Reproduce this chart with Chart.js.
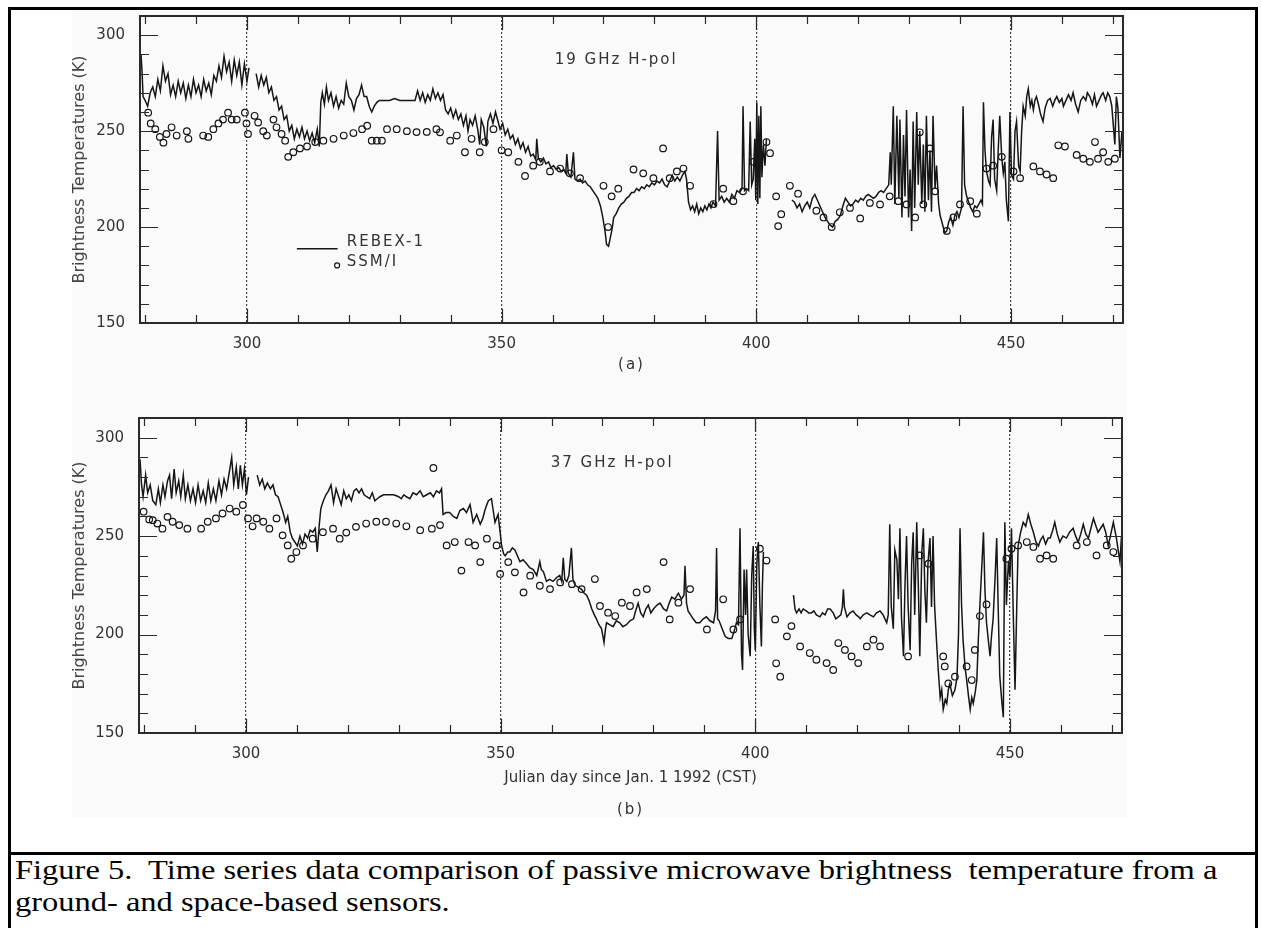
<!DOCTYPE html>
<html>
<head>
<meta charset="utf-8">
<script src="https://cdn.jsdelivr.net/npm/chart.js@4.4.1/dist/chart.umd.min.js"></script>
<style>
  html, body { margin: 0; padding: 0; background: #fff; }
  body { width: 1261px; height: 928px; position: relative; overflow: hidden; }
  #frame { position: absolute; left: 8px; top: 7px; width: 1244px; height: 940px; border: 3px solid #000; }
  #divider { position: absolute; left: 8px; top: 852px; width: 1250px; height: 3px; background: #000; }
  #scan { position: absolute; left: 72px; top: 10px; width: 1055px; height: 807px; background: #fafafa; }
  canvas { position: absolute; }
  #caption { position: absolute; left: 15px; top: 854px; font-family: "Liberation Serif", "Times New Roman", serif;
             font-size: 28px; line-height: 32px; color: #000; white-space: pre;
             transform: scaleX(1.16); transform-origin: left top; }
</style>
</head>
<body>
<div id="frame"></div>
<div id="scan"></div>
<div id="divider"></div>
<canvas id="panel-a" width="1120" height="390" style="left:30px;top:0px"></canvas>
<canvas id="panel-b" width="1120" height="430" style="left:30px;top:400px"></canvas>
<div id="caption">Figure 5.  Time series data comparison of passive microwave brightness  temperature from a
ground- and space-based sensors.</div>
<script>
// axis ticks (Julian day / Kelvin)
const xTicks = [280, 290, 300, 310, 320, 330, 340, 350, 360, 370, 380, 390, 400, 410, 420, 430, 440, 450, 460, 470];
const xLabelled = [300, 350, 400, 450];
const yTicks = [150, 160, 170, 180, 190, 200, 210, 220, 230, 240, 250, 260, 270, 280, 290, 300, 310];
const yLabelled = [150, 200, 250, 300];

// (a) 19 GHz H-pol : REBEX-1 [day, Tb], null = data gap
const rebexA = [
  [279.2,290],[279.4,281],[279.6,268],[280.0,266],[280.5,263],[281.0,270],[281.5,273],[282.0,268],[282.5,277],[283.0,271],
  [283.5,284],[284.0,276],[284.5,280],[285.0,269],[285.5,274],[286.0,268],[286.5,276],[287.0,270],[287.5,275],[288.0,267],
  [288.5,274],[289.0,268],[289.5,277],[290.0,270],[290.5,274],[291.0,268],[291.5,277],[292.0,271],[292.5,275],[293.0,269],
  [293.5,279],[294.0,276],[294.5,284],[295.0,278],[295.5,289],[296.0,281],[296.5,286],[297.0,276],[297.5,287],[298.0,279],
  [298.5,286],[299.0,274],[299.5,285],[300.0,276],[300.4,283],[300.8,null],
  [301.8,280],[302.3,273],[302.8,279],[303.3,274],[303.8,278],[304.3,270],[304.8,273],[305.3,266],[305.8,268],[306.3,261],
  [306.8,263],[307.3,256],[307.8,258],[308.3,250],[308.8,253],[309.3,246],[309.8,251],[310.3,247],[310.8,252],[311.3,246],
  [311.8,250],[312.3,245],[312.8,249],[313.3,244],[313.8,251],[314.2,242],[314.5,265],[314.8,270],[315.2,264],[315.6,273],
  [316.0,266],[316.5,270],[317.0,263],[317.5,268],[318.0,262],[318.5,266],[319.0,264],[319.5,275],[320.0,268],[320.5,266],
  [321.0,261],[321.5,267],[322.0,269],[322.5,274],[323.0,268],[323.5,268],[324.0,263],[324.5,260],[325.0,263],[325.5,265],
  [326.0,266],[327.0,266],[328.0,266],[329.0,267],[330.0,266],[331.0,266],[332.0,266],[333.0,266],[333.5,271],[334.0,266],
  [334.5,270],[335.0,265],[335.5,269],[336.0,266],[336.5,272],[337.0,267],[337.5,270],[338.0,266],[338.5,269],[339.0,261],
  [339.5,259],[340.0,262],[340.5,257],[341.0,261],[341.5,256],[342.0,259],[342.5,253],[343.0,258],[343.4,250],[343.8,256],
  [344.3,253],[344.8,258],[345.3,251],[345.7,243],[346.0,256],[346.5,252],[347.0,242],[347.3,255],[347.8,259],[348.3,254],
  [348.8,260],[349.3,255],[349.7,251],[350.2,254],[350.7,248],[351.2,251],[351.7,246],[352.2,248],[352.7,243],[353.2,246],
  [353.7,241],[354.2,244],[354.7,239],[355.2,242],[355.7,237],[356.2,238],[356.7,235],[356.9,246],[357.2,236],[357.7,234],
  [358.2,236],[358.7,233],[359.2,234],[359.7,231],[360.2,232],[360.7,230],[361.2,231],[361.7,229],[362.2,230],[362.6,228],
  [362.8,238],[363.1,228],[363.6,226],[364.1,239],[364.4,225],[364.9,224],[365.4,225],[365.9,223],[366.4,224],[366.9,222],
  [367.4,221],[367.9,219],[368.4,217],[368.9,215],[369.4,211],[369.8,206],[370.3,198],[370.6,191],[371.0,190],[371.3,194],
  [371.7,199],[372.0,205],[372.5,207],[373.0,210],[373.5,212],[374.0,213],[374.5,215],[375.0,216],[375.5,218],[376.0,218],
  [376.5,220],[377.0,219],[377.5,221],[378.0,220],[378.5,222],[379.0,221],[379.5,223],[380.0,222],[380.5,224],[381.0,223],
  [381.5,225],[382.0,222],[382.5,221],[383.0,224],[383.5,227],[384.0,224],[384.5,226],[385.0,224],[385.5,227],[386.0,229],
  [386.3,225],[386.7,213],[387.1,209],[387.5,211],[387.9,208],[388.3,212],[388.7,207],[389.1,210],[389.5,208],[389.9,211],
  [390.3,209],[390.7,212],[391.1,210],[391.5,213],[392.0,211],[392.4,250],[392.7,214],[393.2,216],[393.7,213],[394.2,215],
  [394.7,213],[395.2,217],[395.7,215],[396.2,219],[396.7,218],[397.2,220],[397.4,263],[397.7,219],[398.1,220],[398.5,219],
  [398.8,255],[399.1,222],[399.4,225],[399.7,246],[399.9,214],[400.1,265],[400.3,212],[400.5,258],[400.7,215],[400.9,263],
  [401.1,226],[401.4,243],[401.7,232],[402.0,246],[402.3,null],
  [407.0,214],[407.5,213],[408.0,210],[408.5,212],[409.0,208],[409.5,211],[410.0,213],[410.5,210],[411.0,215],[411.5,217],
  [412.0,214],[412.5,211],[413.0,208],[413.5,205],[414.0,203],[414.5,201],[415.0,200],[415.5,203],[416.0,204],[416.5,206],
  [417.0,211],[417.5,215],[418.0,213],[418.5,211],[419.0,212],[419.5,214],[420.0,213],[420.5,215],[421.0,214],[421.5,216],
  [422.0,217],[422.5,216],[423.0,215],[423.5,216],[424.0,218],[424.5,219],[425.0,218],[425.5,220],[426.0,222],[426.3,239],
  [426.5,222],[426.9,263],[427.2,212],[427.6,258],[428.0,215],[428.2,256],[428.6,205],[428.9,248],[429.2,216],[429.5,261],
  [429.9,205],[430.2,230],[430.5,198],[430.8,255],[431.1,210],[431.5,260],[431.8,222],[432.1,250],[432.5,212],[432.8,243],
  [433.1,208],[433.4,258],[433.8,214],[434.1,240],[434.4,208],[434.7,258],[435.1,220],[435.4,232],[435.8,212],[436.1,206],
  [436.4,203],[436.7,200],[437.0,197],[437.4,198],[437.8,203],[438.2,205],[438.6,201],[439.0,206],[439.4,208],[439.8,205],
  [440.3,210],[440.6,263],[440.9,222],[441.3,216],[441.7,213],[442.1,210],[442.5,208],[442.9,211],[443.3,210],[443.7,212],
  [444.1,214],[444.4,212],[444.6,265],[444.9,240],[445.2,229],[445.6,224],[445.9,222],[446.2,247],[446.5,256],[446.8,225],
  [447.2,219],[447.5,240],[447.8,258],[448.2,236],[448.5,228],[448.8,234],[449.1,214],[449.5,203],[449.8,260],[450.1,227],
  [450.5,225],[450.8,250],[451.1,255],[451.5,232],[451.8,229],[452.1,250],[452.4,263],[452.8,258],[453.1,268],[453.4,272],
  [453.8,263],[454.1,266],[454.4,261],[454.7,266],[455.0,268],[455.4,264],[455.8,259],[456.3,255],[456.7,262],[457.2,266],
  [457.7,267],[458.2,263],[458.6,266],[459.0,268],[459.5,265],[460.0,267],[460.3,263],[460.8,266],[461.3,269],[461.8,266],
  [462.2,270],[462.7,264],[463.2,260],[463.7,266],[464.2,268],[464.7,266],[465.0,270],[465.5,268],[466.0,264],[466.4,269],
  [466.8,263],[467.3,266],[467.8,269],[468.1,270],[468.6,266],[469.0,270],[469.4,268],[469.8,263],[470.1,253],[470.4,243],
  [470.7,268],[471.0,262],[471.4,236],[471.8,250]
];

// (a) 19 GHz H-pol : SSM/I overpasses [day, Tb]
const ssmiA = [
  [280.6,259.6],[281.1,254],[282.0,251],[282.9,247],[283.6,244],[284.2,248.5],[285.2,252],[286.2,247.7],[288.2,250],[288.5,246],
  [291.4,247.7],[292.4,247],[293.4,251],[294.4,254],[295.3,256],[296.3,259.6],[297.0,256],[298.0,256],[299.6,259.6],[299.9,254],
  [300.2,248.5],[301.5,258],[302.2,254.5],[303.2,250],[303.9,247.7],[305.2,256],[305.8,252],[306.8,248.5],[307.5,245],[308.1,236.6],
  [309.1,239],[310.4,241],[311.8,242],[313.4,244.3],[315.0,245],[317.0,246],[319.0,247.7],[320.9,249],[322.6,251],[323.6,252.8],
  [324.5,245],[325.5,245],[326.5,245],[327.5,251],[329.4,251],[331.4,250],[333.3,249.5],[335.3,249.6],[337.2,251],[337.9,249.4],
  [339.9,245],[341.2,247.7],[342.8,239],[344.1,246],[345.7,239],[346.7,244.3],[348.4,251],[350.0,240],[351.3,239],[353.3,234],
  [354.6,226.6],[356.2,232],[357.5,234],[359.5,229],[361.5,230.5],[363.4,228],[365.4,225.5],[370.0,221.5],[370.9,200],[371.6,216],
  [372.9,220],[375.9,230],[377.8,228],[379.8,225.5],[381.7,241],[383.0,225.5],[384.4,229],[385.7,230.5],[387.0,221.5],[391.6,212],
  [393.5,220],[395.5,213.5],[397.4,218.6],[399.4,234],[402.0,244.3],[402.7,238.5],[403.9,216],[404.3,200.5],[404.9,206.7],[406.6,221.5],
  [408.2,217.4],[411.8,208.5],[413.2,205],[414.8,200],[416.4,207.7],[418.4,210],[420.4,204.5],[422.3,212.6],[424.3,211.8],[426.2,216],
  [427.9,213.5],[429.5,211.8],[431.2,205],[432.1,249.4],[432.8,211.8],[434.1,241],[435.1,218.6],[437.4,198],[438.7,205],[440.0,211.8],
  [442.0,213.5],[443.3,207],[445.2,230.5],[446.5,232],[448.2,236.6],[450.5,229],[451.8,225.5],[454.4,231.6],[455.7,229],[457.0,227.4],
  [458.3,225.5],[459.3,242.6],[460.6,242],[462.9,237.6],[464.2,235.6],[465.5,234],[466.5,244.3],[467.1,235.6],[468.1,239],[469.1,234],
  [470.4,235.6]
];

// (b) 37 GHz H-pol : REBEX-1 [day, Tb]
const rebexB = [
  [279.2,289],[279.5,276],[279.8,270],[280.3,281],[280.7,272],[281.2,276],[281.7,268],[282.3,266],[282.8,274],[283.2,267],
  [283.7,276],[284.1,270],[284.6,278],[285.0,281],[285.4,269],[285.9,284],[286.3,272],[286.8,278],[287.2,270],[287.7,281],
  [288.1,269],[288.6,276],[289.1,268],[289.6,274],[290.1,267],[290.6,276],[291.1,268],[291.6,273],[292.1,267],[292.6,277],
  [293.1,268],[293.6,274],[294.1,268],[294.7,278],[295.2,271],[295.7,279],[296.2,274],[296.7,282],[297.2,290],[297.6,276],
  [298.1,285],[298.5,274],[298.9,286],[299.3,276],[299.7,284],[300.1,271],[300.5,280],[300.8,null],
  [302.2,281],[302.7,276],[303.2,279],[303.7,274],[304.2,277],[304.8,274],[305.3,276],[305.8,271],[306.3,270],[306.8,266],
  [307.3,262],[307.8,257],[308.2,260],[308.7,252],[309.1,249],[309.6,247],[310.1,245],[310.6,250],[311.1,246],[311.6,251],
  [312.1,249],[312.6,253],[313.1,252],[313.6,254],[314.0,242],[314.4,256],[314.7,264],[315.2,268],[315.7,271],[316.2,273],
  [316.7,276],[317.2,267],[317.7,274],[318.2,270],[318.7,266],[319.2,273],[319.7,269],[320.2,271],[320.7,268],[321.2,273],
  [321.7,274],[322.2,272],[322.7,274],[323.2,271],[323.7,270],[324.3,269],[324.8,272],[325.3,268],[325.8,269],[326.3,270],
  [327.0,271],[328.0,271],[329.0,271],[330.0,270],[330.5,269],[331.0,271],[331.5,270],[332.2,269],[332.8,272],[333.5,271],
  [334.2,273],[334.8,270],[335.5,271],[336.2,272],[336.8,270],[337.4,273],[338.0,272],[338.4,274],[338.7,261],[339.3,262],
  [340.0,262],[340.7,260],[341.4,259],[342.0,263],[342.7,264],[343.3,262],[344.0,266],[344.6,257],[345.3,261],[346.0,256],
  [346.5,259],[346.9,263],[347.3,266],[347.6,268],[348.2,269],[348.6,262],[348.9,257],[349.5,261],[349.9,252],[350.2,245],
  [350.6,241],[350.9,240],[351.4,242],[351.8,242],[352.3,244],[352.8,243],[353.3,240],[353.8,237],[354.4,238],[355.1,236],
  [355.7,234],[356.4,233],[357.1,230],[357.7,237],[358.0,233],[358.4,232],[359.0,227],[359.6,228],[360.3,227],[361.0,229],
  [361.6,230],[362.0,227],[362.3,239],[362.6,228],[363.0,227],[363.4,230],[363.9,244],[364.2,228],[364.6,225],[365.3,224],
  [365.9,223],[366.4,221],[366.9,220],[367.4,217],[367.9,213],[368.4,210],[368.8,208],[369.3,205],[369.8,203],[370.1,199],
  [370.3,196],[370.6,203],[370.8,206],[371.4,205],[372.1,204],[372.7,207],[373.4,206],[374.0,204],[374.7,205],[375.4,207],
  [376.1,208],[376.5,212],[377.0,216],[377.5,211],[378.0,209],[378.5,213],[379.0,215],[379.5,211],[380.0,213],[380.7,215],
  [381.3,216],[382.0,213],[382.6,212],[383.1,216],[383.6,219],[384.2,218],[384.9,221],[385.5,218],[386.0,220],[386.2,235],
  [386.5,216],[386.8,212],[387.3,210],[387.8,208],[388.4,206],[389.1,206],[389.8,208],[390.4,209],[391.1,207],[391.8,206],
  [392.2,212],[392.4,244],[392.6,208],[392.9,207],[393.5,203],[394.1,199],[394.7,198],[395.4,198],[396.0,203],[396.3,206],
  [396.7,205],[397.0,254],[397.3,190],[397.5,182],[397.8,233],[398.1,210],[398.3,233],[398.6,200],[399.0,189],[399.3,230],
  [399.6,245],[399.8,204],[400.0,192],[400.3,236],[400.6,247],[400.9,215],[401.2,194],[401.4,225],[401.6,242],[401.9,null],
  [407.5,220],[407.8,213],[408.1,211],[408.6,213],[409.0,211],[409.4,213],[410.0,212],[410.5,211],[411.0,211],[411.5,212],
  [412.0,210],[412.7,209],[413.2,211],[413.7,210],[414.2,213],[414.7,213],[415.3,211],[415.8,208],[416.3,209],[416.8,210],
  [417.1,214],[417.3,223],[417.5,214],[418.0,209],[418.6,211],[419.2,212],[419.8,210],[420.3,209],[420.6,208],[421.2,210],
  [421.9,211],[422.5,210],[423.2,209],[423.8,211],[424.5,212],[425.1,210],[425.8,206],[426.1,210],[426.4,256],[426.7,214],
  [427.1,203],[427.4,243],[427.8,238],[428.1,218],[428.4,254],[428.7,209],[429.1,189],[429.4,226],[429.7,250],[430.0,215],
  [430.4,192],[430.7,236],[431.0,252],[431.3,210],[431.7,257],[432.0,226],[432.3,189],[432.7,242],[433.0,254],[433.3,222],
  [433.6,206],[433.9,236],[434.3,249],[434.6,214],[434.9,250],[435.2,215],[435.6,196],[435.9,183],[436.3,168],[436.6,172],
  [436.9,162],[437.3,167],[437.6,165],[437.9,172],[438.2,175],[438.7,169],[439.2,172],[439.6,178],[439.9,200],[440.2,254],
  [440.5,215],[440.8,197],[441.2,183],[441.5,177],[441.9,168],[442.2,162],[442.5,168],[442.8,165],[443.2,171],[443.5,177],
  [443.8,198],[444.1,215],[444.5,236],[444.8,252],[445.1,222],[445.4,206],[445.8,196],[446.1,189],[446.4,200],[446.7,208],
  [447.1,230],[447.4,249],[447.7,213],[448.0,179],[448.4,166],[448.7,158],[449.0,257],[449.3,215],[449.7,237],[450.0,229],
  [450.3,254],[450.7,205],[451.0,172],[451.3,210],[451.6,245],[452.1,252],[452.6,257],[453.1,255],[453.6,261],[454.1,256],
  [454.6,252],[455.1,247],[455.6,245],[456.0,248],[456.5,250],[457.0,246],[457.5,249],[457.9,249],[458.4,253],[458.8,257],
  [459.3,251],[459.8,247],[460.4,250],[461.1,249],[461.7,252],[462.4,254],[462.9,250],[463.4,247],[463.9,251],[464.4,256],
  [464.9,251],[465.4,249],[465.9,254],[466.4,259],[466.9,255],[467.3,252],[467.8,254],[468.3,256],[468.8,252],[469.3,245],
  [469.8,251],[470.3,257],[470.6,253],[470.9,249],[471.3,242],[471.6,237],[471.9,250]
];

// (b) 37 GHz H-pol : SSM/I overpasses [day, Tb]
const ssmiB = [
  [279.9,262.4],[281.0,258.5],[281.7,258.1],[282.6,256.4],[283.6,253.8],[284.6,259.8],[285.6,257.3],[286.9,255.6],[288.5,253.8],[291.2,253.8],
  [292.5,257.3],[294.1,259],[295.4,261.5],[296.8,264],[298.1,262.4],[299.4,265.8],[300.4,259],[301.3,255],[302.1,259],[303.4,257.3],
  [304.6,253.8],[306.0,259],[307.2,250.4],[308.2,245.3],[308.9,238.5],[309.9,241.9],[311.2,245.3],[313.1,248.7],[315.1,252],[317.1,253.8],
  [318.4,248.7],[319.7,251.8],[321.6,254.7],[323.6,256.4],[325.6,257.3],[327.5,257.3],[329.5,256.4],[331.5,255],[334.2,253],[336.5,253.8],
  [336.8,284.6],[338.1,255.6],[339.4,245.3],[341.0,247],[342.3,232.5],[343.7,247],[345.0,245.3],[346.0,236.8],[347.3,248.7],[349.2,245.3],
  [349.9,230.8],[351.5,236.8],[352.8,231.6],[354.5,221.4],[355.8,229.9],[357.7,224.8],[359.7,223.1],[361.7,226.5],[364.0,225.6],[365.9,223.1],
  [368.5,228.2],[369.5,214.5],[371.1,211.1],[372.5,209.4],[373.8,216.2],[375.4,214.5],[376.7,221.4],[378.7,223.1],[382.0,236.8],[383.2,207.7],
  [384.9,216.2],[387.2,223.1],[390.5,202.6],[393.7,217.9],[395.7,202.6],[397.0,207.7],[400.9,243.6],[402.2,237.6],[403.9,207.7],[404.1,185.4],
  [404.9,178.6],[406.2,199.1],[407.1,204.3],[408.8,194],[410.7,190.6],[412.0,187.2],[414.0,185.5],[415.3,182],[416.3,195.7],[417.6,192.2],
  [418.9,188.9],[420.2,185.5],[421.9,194],[423.2,197.4],[424.5,194],[430.0,188.9],[432.3,240.2],[434.0,236],[436.9,188.9],[437.2,183.8],
  [437.9,175.2],[439.2,178.6],[441.5,183.8],[442.5,176.9],[443.1,192.2],[444.1,209.4],[445.4,215.3],[449.3,238.5],[450.3,243.6],[451.6,245.3],
  [453.3,247],[454.6,244.5],[455.9,238.5],[457.2,240.2],[458.5,238.5],[463.1,245.3],[465.1,247],[467.0,240.2],[469.0,245.3],[470.3,241.9]
];

const INK = '#161616';
const FONT = '"DejaVu Sans", sans-serif';
Chart.defaults.font.family = FONT;
Chart.defaults.color = '#333';

const toPoints = (rows) => rows.map(([day, tb]) => ({ x: day, y: tb }));

// IDL-style frame: inward ticks on all four sides, panel texts and the in-plot legend
const idlFrame = {
  id: 'idlFrame',
  afterDatasetsDraw(chart, args, opts) {
    const { ctx, chartArea: a, scales: { x, y } } = chart;
    ctx.save();
    ctx.strokeStyle = '#2a2a2a';
    ctx.lineWidth = 1.2;
    ctx.beginPath();
    yTicks.forEach((v) => {
      const py = Math.round(y.getPixelForValue(v)) + 0.5;
      const len = yLabelled.includes(v) ? 18 : 9;
      ctx.moveTo(a.left, py); ctx.lineTo(a.left + len, py);
      ctx.moveTo(a.right, py); ctx.lineTo(a.right - len, py);
    });
    xTicks.forEach((v) => {
      const px = Math.round(x.getPixelForValue(v)) + 0.5;
      const len = xLabelled.includes(v) ? 14 : 8;
      ctx.moveTo(px, a.bottom); ctx.lineTo(px, a.bottom - len);
      ctx.moveTo(px, a.top); ctx.lineTo(px, a.top + len);
    });
    ctx.stroke();
    ctx.lineWidth = 2;
    ctx.strokeRect(a.left, a.top, a.right - a.left, a.bottom - a.top);

    ctx.fillStyle = '#333';
    ctx.font = `15px ${FONT}`;
    ctx.letterSpacing = '2px';
    ctx.textAlign = 'center';
    ctx.textBaseline = 'middle';
    ctx.fillText(opts.label, x.getPixelForValue(opts.labelAt[0]), y.getPixelForValue(opts.labelAt[1]));
    ctx.fillText(opts.tag, (a.left + a.right) / 2, a.bottom + opts.tagOffset);

    const lg = opts.legend;
    if (lg) {
      const [rebex, ssmi] = chart.data.datasets;
      ctx.strokeStyle = rebex.borderColor;
      ctx.lineWidth = rebex.borderWidth;
      ctx.beginPath();
      ctx.moveTo(x.getPixelForValue(lg.lineFrom), y.getPixelForValue(lg.lineY));
      ctx.lineTo(x.getPixelForValue(lg.lineTo), y.getPixelForValue(lg.lineY));
      ctx.stroke();
      ctx.strokeStyle = ssmi.pointBorderColor;
      ctx.lineWidth = ssmi.pointBorderWidth;
      ctx.beginPath();
      ctx.arc(x.getPixelForValue(lg.dotX), y.getPixelForValue(lg.dotY), 2.5, 0, Math.PI * 2);
      ctx.stroke();
      ctx.textAlign = 'left';
      ctx.fillText(rebex.label, x.getPixelForValue(lg.textX), y.getPixelForValue(lg.rebexY));
      ctx.fillText(ssmi.label, x.getPixelForValue(lg.textX), y.getPixelForValue(lg.ssmiY));
    }
    ctx.restore();
  },
};

const makePanel = (id, rebex, ssmi, cfg) => {
  const canvas = document.getElementById(id);
  return new Chart(canvas.getContext('2d'), {
    type: 'line',
    data: {
      datasets: [
        {
          label: 'REBEX-1',
          data: toPoints(rebex),
          borderColor: INK,
          borderWidth: 1.5,
          pointRadius: 0,
          tension: 0,
          spanGaps: false,
        },
        {
          label: 'SSM/I',
          data: toPoints(ssmi),
          showLine: false,
          pointStyle: 'circle',
          pointRadius: 3.3,
          pointBorderWidth: 1.2,
          pointBorderColor: INK,
          pointBackgroundColor: 'rgba(0,0,0,0)',
        },
      ],
    },
    options: {
      responsive: false,
      animation: false,
      devicePixelRatio: 1,
      layout: { padding: cfg.padding },
      plugins: {
        legend: { display: false },
        tooltip: { enabled: false },
        idlFrame: cfg.frame,
      },
      scales: {
        x: {
          type: 'linear',
          min: 279,
          max: 472,
          afterBuildTicks: (axis) => { axis.ticks = xTicks.map((v) => ({ value: v })); },
          afterFit: (axis) => { axis.height = cfg.xHeight; },
          ticks: {
            autoSkip: false,
            maxRotation: 0,
            padding: 12,
            font: { size: 15 },
            color: '#333',
            callback: (v) => (xLabelled.includes(v) ? String(v) : ''),
          },
          grid: {
            drawTicks: false,
            lineWidth: 1.2,
            color: (c) => (c.tick && xLabelled.includes(c.tick.value) ? '#444' : 'rgba(0,0,0,0)'),
          },
          border: { display: false, dash: [2, 2] },
          title: cfg.xTitle,
        },
        y: {
          min: 150,
          max: 310,
          afterBuildTicks: (axis) => { axis.ticks = yTicks.map((v) => ({ value: v })); },
          afterFit: (axis) => { axis.width = cfg.yWidth; },
          ticks: {
            autoSkip: false,
            padding: 7,
            font: { size: 15 },
            color: '#333',
            callback: (v) => (yLabelled.includes(v) ? String(v) : ''),
          },
          grid: { display: false },
          border: { display: false },
          title: {
            display: true,
            text: 'Brightness Temperatures (K)',
            color: '#444',
            font: { size: 16 },
            padding: { top: 40, bottom: 0 },
          },
        },
      },
    },
    plugins: [idlFrame],
  });
};

makePanel('panel-a', rebexA, ssmiA, {
  padding: { top: 10, right: 27, left: 0, bottom: 0 },
  xHeight: 67,
  yWidth: 110,
  xTitle: { display: false },
  frame: {
    label: '19 GHz H-pol',
    labelAt: [372.5, 287],
    tag: '(a)',
    tagOffset: 42,
    legend: { lineFrom: 309.8, lineTo: 317.8, lineY: 188.7, dotX: 317.7, dotY: 180, textX: 319.6, rebexY: 192.3, ssmiY: 181.5 },
  },
});

makePanel('panel-b', rebexB, ssmiB, {
  padding: { top: 18, right: 28, left: 0, bottom: 0 },
  xHeight: 97,
  yWidth: 109,
  xTitle: {
    display: true,
    text: 'Julian day since Jan. 1 1992 (CST)',
    color: '#333',
    font: { size: 15 },
    padding: { top: 0, bottom: 43 },
  },
  frame: {
    label: '37 GHz H-pol',
    labelAt: [371.9, 287.2],
    tag: '(b)',
    tagOffset: 77,
    legend: null,
  },
});
</script>
</body>
</html>
